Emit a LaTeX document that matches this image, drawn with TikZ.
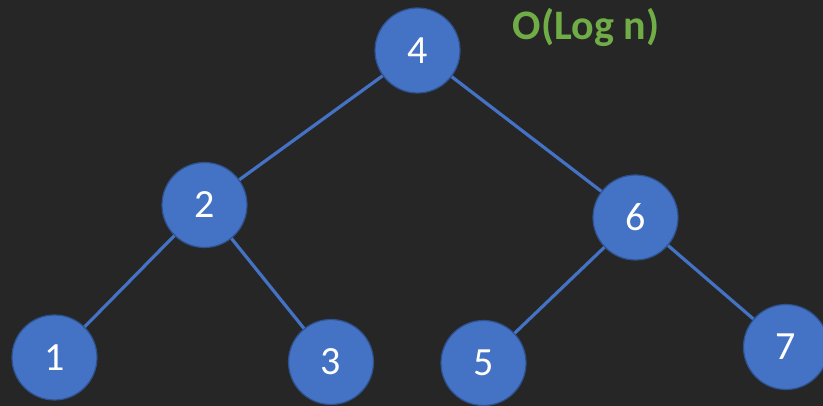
\documentclass[tikz,border=0pt]{standalone}
\usepackage{fontspec}
\setmainfont{Carlito}
\usepackage{tikz}
\definecolor{bgdark}{HTML}{262626}
\definecolor{nodeblue}{HTML}{4472C4}
\definecolor{rimblue}{HTML}{2F528F}
\definecolor{bigogreen}{HTML}{70AD47}
\tikzset{
  treenode/.style={circle, fill=nodeblue, draw=rimblue, line width=1.2pt,
    minimum size=85pt, inner sep=0pt, text=white, font=\fontsize{40}{46}\selectfont},
  treeedge/.style={draw=nodeblue, line width=3.2pt}
}
\begin{document}
\begin{tikzpicture}[x=1pt, y=-1pt]
\fill[bgdark] (0,0) rectangle (823,406);
\useasboundingbox (0,0) rectangle (823,406);
\node[treenode] (4) at (417.5,50.5){4};
\node[treenode] (2) at (204.5,205){2};
\node[treenode] (6) at (635.5,217.5){6};
\node[treenode] (1) at (54.5,357.5){1};
\node[treenode] (3) at (331,362){3};
\node[treenode] (5) at (483.5,363){5};
\node[treenode] (7) at (786,347){7};
\foreach \from/\to in
{4/2,4/6,2/1,2/3,6/5,6/7}
\draw[treeedge] (\from) -- (\to);
\node[text=bigogreen, font=\fontsize{42}{48}\selectfont\bfseries] (cost) at (586,27){O(Log n)};
\end{tikzpicture}
\end{document}
